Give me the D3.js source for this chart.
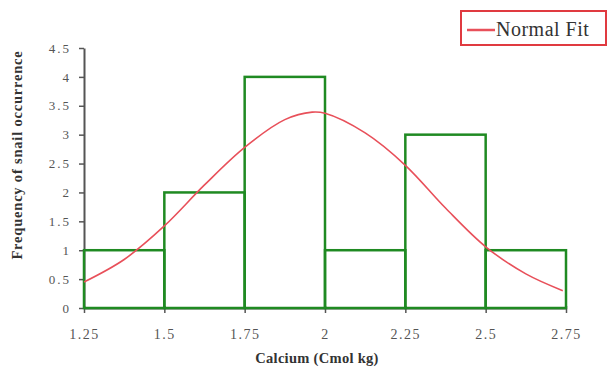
<!DOCTYPE html>
<html>
<head>
<meta charset="utf-8">
<title>Calcium histogram</title>
<script src="https://cdn.jsdelivr.net/npm/d3@7"></script>
<style>
body { margin:0; background:#fff; }
svg text { font-family:"Liberation Serif", "DejaVu Serif", serif; }
</style>
</head>
<body>
<svg id="chart" width="608" height="371"></svg>
<script>
// histogram bins (Calcium, Cmol kg) and counts
var binEdges = [1.25, 1.5, 1.75, 2, 2.25, 2.5, 2.75];
var counts = [1, 2, 4, 1, 3, 1];
// normal fit curve
var fitX = [1.25, 1.375, 1.5, 1.625, 1.75, 1.875, 1.96, 2.0, 2.125, 2.25, 2.375, 2.5, 2.625, 2.74];
var fitY = [0.45, 0.84, 1.42, 2.13, 2.78, 3.26, 3.39, 3.37, 3.03, 2.47, 1.73, 1.06, 0.59, 0.3];
var xTicks = [1.25, 1.5, 1.75, 2, 2.25, 2.5, 2.75];
var yTicks = [0, 0.5, 1, 1.5, 2, 2.5, 3, 3.5, 4, 4.5];

var svg = d3.select("#chart");
var m = {left:84, right:566, top:48, bottom:308};

var x = d3.scaleLinear().domain([1.25, 2.75]).range([m.left, m.right]);
var y = d3.scaleLinear().domain([0, 4.5]).range([m.bottom, m.top]);

// axes
var gx = svg.append("g").attr("transform", "translate(0," + m.bottom + ")")
  .call(d3.axisBottom(x).tickValues(xTicks).tickSize(5).tickSizeOuter(0).tickFormat(function(d){ return d3.format("")(d); }));
var gy = svg.append("g").attr("transform", "translate(" + m.left + ",0)")
  .call(d3.axisLeft(y).tickValues(yTicks).tickSize(5).tickSizeOuter(0).tickFormat(function(d){ return d3.format("")(d); }));
gx.selectAll(".tick line").attr("y1", -2);
[gx, gy].forEach(function(g){
  g.select(".domain").attr("stroke", "#555").attr("stroke-width", 2);
  g.selectAll(".tick line").attr("stroke", "#555").attr("stroke-width", 1.5);
  g.selectAll(".tick text").attr("fill", "#555")
    .style("font-family", "Liberation Serif, serif");
});
gx.selectAll(".tick text").style("font-size", "14px").style("letter-spacing", "1.5px")
  .attr("dy", 0).attr("y", 31);
gy.selectAll(".tick text").style("font-size", "13px").style("letter-spacing", "2px")
  .attr("x", -13);

// bars
var bins = counts.map(function(c, i){ return {x0:binEdges[i], x1:binEdges[i+1], n:c}; });
svg.append("g").selectAll("rect").data(bins).enter().append("rect")
  .attr("x", function(d){ return x(d.x0); })
  .attr("y", function(d){ return y(d.n); })
  .attr("width", function(d){ return x(d.x1) - x(d.x0); })
  .attr("height", function(d){ return y(0) - y(d.n); })
  .attr("fill", "none")
  .attr("stroke", "#1f8a22")
  .attr("stroke-width", 2.5);

// normal fit
var line = d3.line().x(function(d){ return x(d[0]); }).y(function(d){ return y(d[1]); }).curve(d3.curveCatmullRom);
svg.append("path").datum(d3.zip(fitX, fitY))
  .attr("d", line).attr("fill", "none").attr("stroke", "#e8505a").attr("stroke-width", 1.6);

// titles
svg.append("text").attr("x", 317).attr("y", 363).attr("text-anchor", "middle")
  .style("font-size", "14.5px").style("font-weight", "bold").style("letter-spacing", "0.3px").attr("fill", "#333")
  .text("Calcium (Cmol kg)");
svg.append("text").attr("transform", "translate(22,155) rotate(-90)").attr("text-anchor", "middle")
  .style("font-size", "14.5px").style("font-weight", "bold").style("letter-spacing", "0.8px").attr("fill", "#333")
  .text("Frequency of snail occurrence");

// legend
var lg = svg.append("g");
lg.append("rect").attr("x", 461).attr("y", 11).attr("width", 145).attr("height", 34)
  .attr("fill", "#fff").attr("stroke", "#e03a40").attr("stroke-width", 2);
lg.append("line").attr("x1", 467).attr("x2", 495).attr("y1", 30).attr("y2", 30)
  .attr("stroke", "#e8505a").attr("stroke-width", 2.5);
lg.append("text").attr("x", 496).attr("y", 36).style("font-size", "20px").style("letter-spacing", "0.5px").attr("fill", "#333")
  .text("Normal Fit");
</script>
</body>
</html>
